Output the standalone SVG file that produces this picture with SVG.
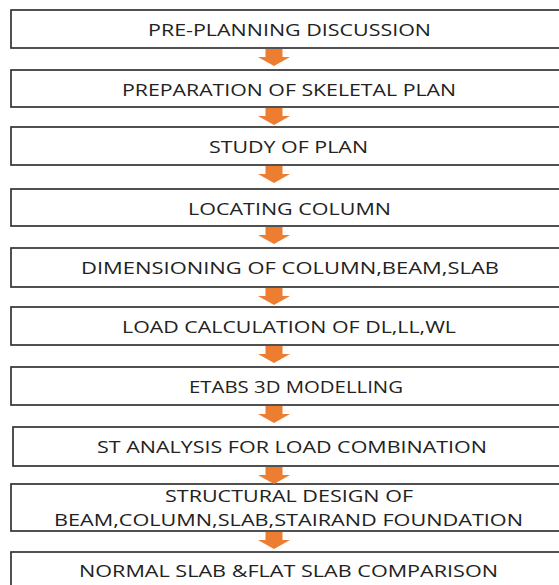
<svg xmlns="http://www.w3.org/2000/svg" xmlns:xlink="http://www.w3.org/1999/xlink" width="559" height="585" viewBox="0 0 559 585">
<style>
.box{fill:#ffffff;stroke:#333333;stroke-width:1.7}
.t{font-family:"Open Sans","Liberation Sans",sans-serif;font-size:16.5px;fill:#222222}
.arr{fill:#ED7D31}
</style>
<defs>
<path id="arrow" class="arr" d="M-8.5,0 H8.5 V8 H16 L0,17 L-16,8 H-8.5 Z"/>
</defs>
<rect width="559" height="585" fill="#ffffff"/>
<g id="n1"><rect class="box" x="11" y="10" width="560" height="38"/><text class="t" x="148" y="36" textLength="283" lengthAdjust="spacingAndGlyphs">PRE-PLANNING DISCUSSION</text></g>
<g id="n2"><rect class="box" x="11" y="70" width="560" height="37"/><text class="t" x="122" y="96" textLength="334" lengthAdjust="spacingAndGlyphs">PREPARATION OF SKELETAL PLAN</text></g>
<g id="n3"><rect class="box" x="11" y="127" width="560" height="38"/><text class="t" x="209" y="153" textLength="159" lengthAdjust="spacingAndGlyphs">STUDY OF PLAN</text></g>
<g id="n4"><rect class="box" x="11" y="189" width="560" height="37"/><text class="t" x="188" y="215" textLength="203" lengthAdjust="spacingAndGlyphs">LOCATING COLUMN</text></g>
<g id="n5"><rect class="box" x="11" y="248" width="560" height="39"/><text class="t" x="81" y="274" textLength="418" lengthAdjust="spacingAndGlyphs">DIMENSIONING OF COLUMN,BEAM,SLAB</text></g>
<g id="n6"><rect class="box" x="11" y="307" width="560" height="38"/><text class="t" x="122" y="333" textLength="334" lengthAdjust="spacingAndGlyphs">LOAD CALCULATION OF DL,LL,WL</text></g>
<g id="n7"><rect class="box" x="11" y="367" width="560" height="38"/><text class="t" x="189" y="393" textLength="214" lengthAdjust="spacingAndGlyphs">ETABS 3D MODELLING</text></g>
<g id="n8"><rect class="box" x="13" y="427" width="560" height="39"/><text class="t" x="97" y="453" textLength="390" lengthAdjust="spacingAndGlyphs">ST ANALYSIS FOR LOAD COMBINATION</text></g>
<g id="n9"><rect class="box" x="11" y="484" width="560" height="47"/><text class="t" x="165" y="502" textLength="248" lengthAdjust="spacingAndGlyphs">STRUCTURAL DESIGN OF</text><text class="t" x="54" y="526" textLength="469" lengthAdjust="spacingAndGlyphs">BEAM,COLUMN,SLAB,STAIRAND FOUNDATION</text></g>
<g id="n10"><rect class="box" x="11" y="552" width="560" height="45"/><text class="t" x="79" y="577" textLength="419" lengthAdjust="spacingAndGlyphs">NORMAL SLAB &amp;FLAT SLAB COMPARISON</text></g>
<g id="connectors">
<use xlink:href="#arrow" transform="translate(274,49)"/>
<use xlink:href="#arrow" transform="translate(274,108)"/>
<use xlink:href="#arrow" transform="translate(274,166)"/>
<use xlink:href="#arrow" transform="translate(274,227)"/>
<use xlink:href="#arrow" transform="translate(274,288)"/>
<use xlink:href="#arrow" transform="translate(274,346)"/>
<use xlink:href="#arrow" transform="translate(274,406)"/>
<use xlink:href="#arrow" transform="translate(274,467)"/>
<use xlink:href="#arrow" transform="translate(274,532)"/>
</g>
</svg>
